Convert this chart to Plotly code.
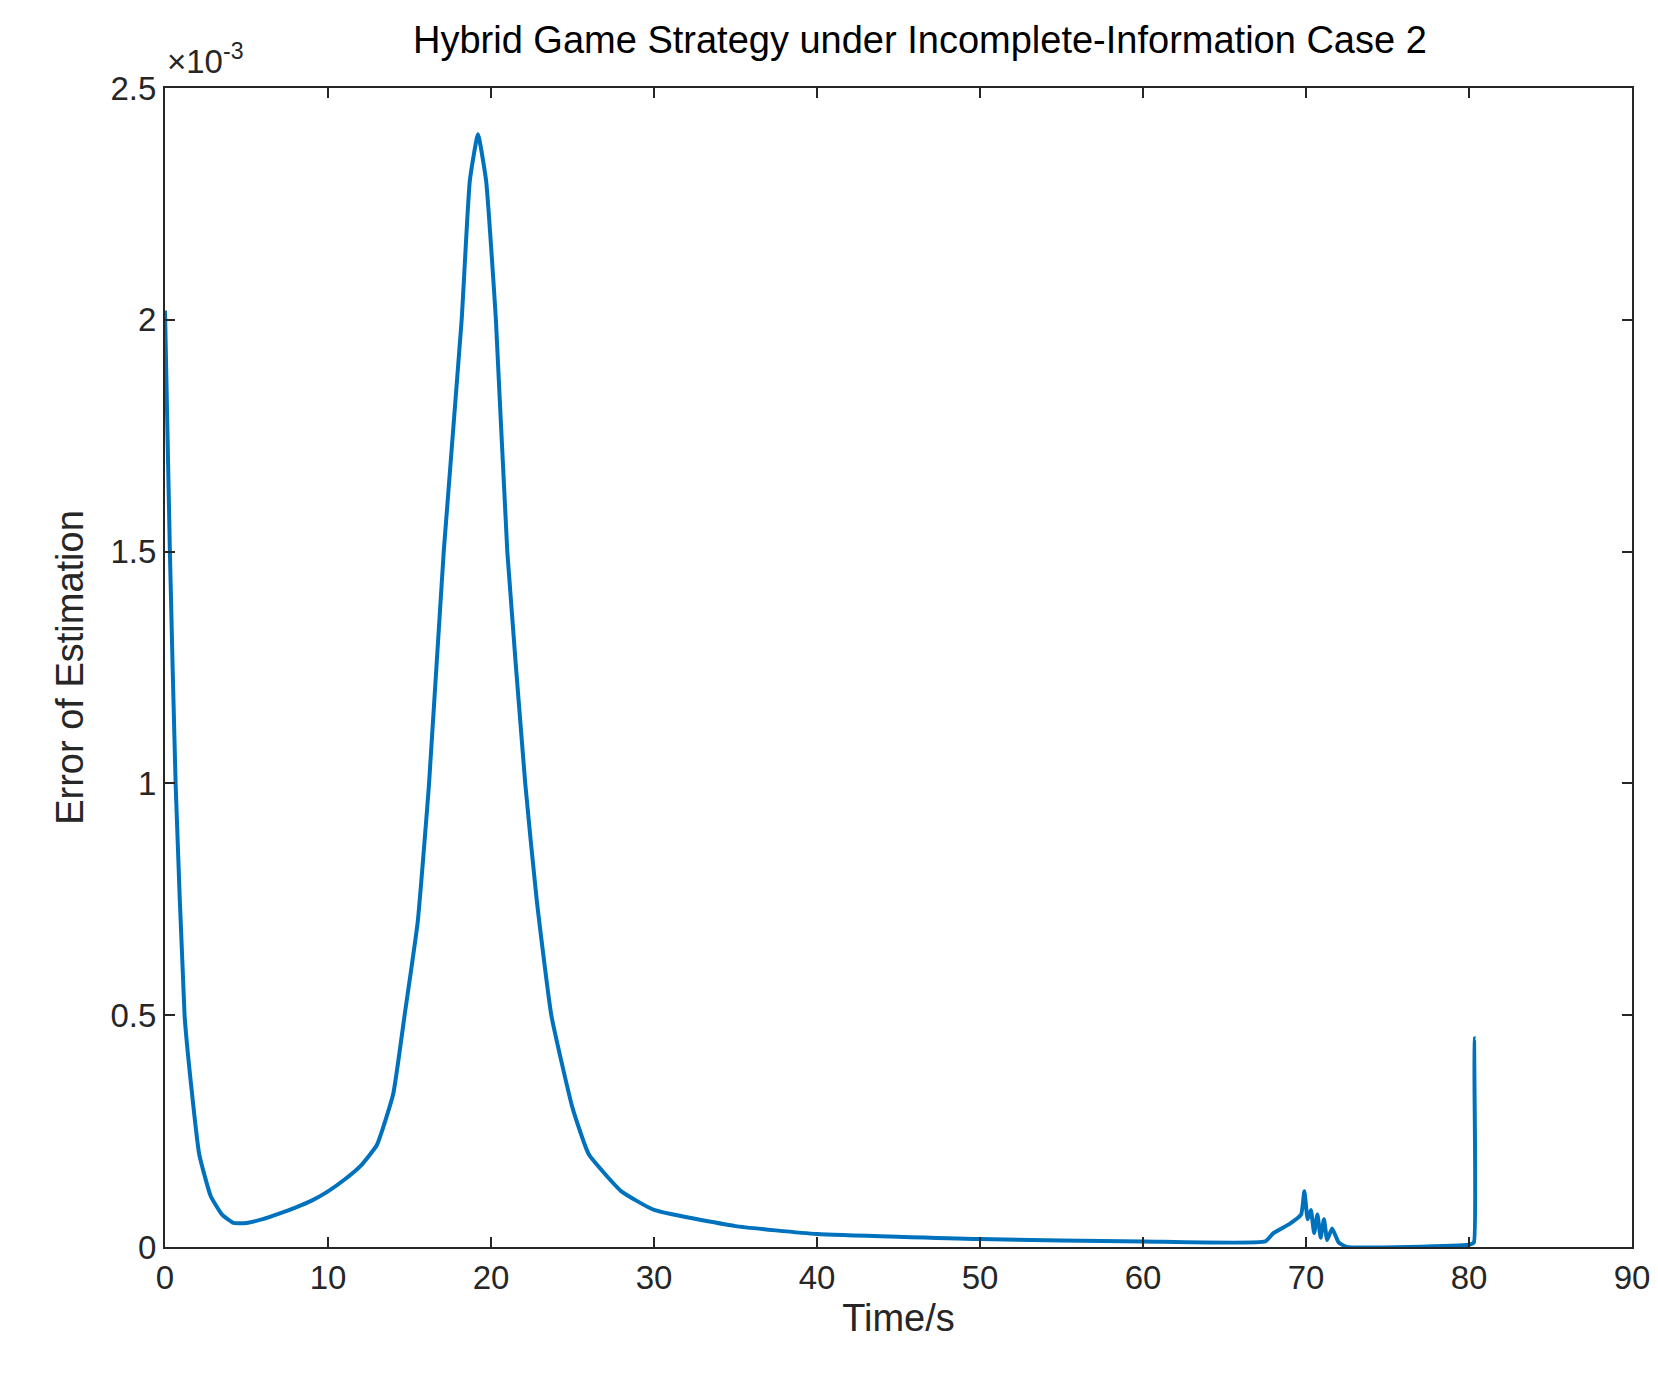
import plotly.graph_objects as go

time_s = [0, 0.3, 0.65, 1.2, 1.6, 2.1, 2.8, 3.5, 4.2, 5, 6, 7, 8, 9, 10, 11, 12, 13, 14, 14.7, 15.5, 16.2, 17.1, 18.2, 18.7, 19.2, 19.7, 20.3, 21.0, 22.1, 22.8, 23.7, 25, 26, 28, 30, 35, 40, 50, 60, 67.5, 68, 69, 69.7, 69.9, 70.1, 70.3, 70.5, 70.7, 70.9, 71.1, 71.3, 71.6, 72, 72.5, 80, 80.3, 80.35, 80.4]
error_e3 = [2.02, 1.5, 1.0, 0.5, 0.35, 0.2, 0.11, 0.07, 0.052, 0.052, 0.06, 0.072, 0.085, 0.1, 0.12, 0.145, 0.175, 0.22, 0.33, 0.5, 0.7, 1.0, 1.5, 2.0, 2.3, 2.40, 2.3, 2.0, 1.5, 1.0, 0.75, 0.5, 0.3, 0.2, 0.12, 0.08, 0.045, 0.028, 0.017, 0.012, 0.012, 0.03, 0.05, 0.07, 0.12, 0.06, 0.08, 0.03, 0.07, 0.02, 0.06, 0.015, 0.04, 0.01, 0.0, 0.005, 0.01, 0.45, 0.45]
x_ticks = [0, 10, 20, 30, 40, 50, 60, 70, 80, 90]
y_ticks = [0, 0.5, 1, 1.5, 2, 2.5]
y_tick_labels = ["0", "0.5", "1", "1.5", "2", "2.5"]

fig = go.Figure(go.Scatter(x=time_s, y=error_e3, mode="lines",
                           line=dict(color="#0072BD", width=4, shape="spline", smoothing=0.4)))
ax = dict(showgrid=False, zeroline=False, showline=True, mirror="ticks", linecolor="#262626",
          linewidth=2, ticks="inside", ticklen=10, tickwidth=2, tickcolor="#262626",
          tickfont=dict(family="Liberation Sans, Arial", size=33, color="#262626"))
fig.update_xaxes(range=[0, 90], tickvals=x_ticks, title=dict(text="Time/s", font=dict(size=38, family="Liberation Sans, Arial", color="#262626"), standoff=10), **ax)
fig.update_yaxes(range=[0, 2.5], tickvals=y_ticks, ticktext=y_tick_labels, title=dict(text="Error of Estimation", font=dict(size=38, family="Liberation Sans, Arial", color="#262626"), standoff=15), **ax)
fig.update_layout(width=1658, height=1387, plot_bgcolor="white", paper_bgcolor="white", showlegend=False,
                  margin=dict(l=157, r=34, t=80, b=148),
                  title=dict(text="Hybrid Game Strategy under Incomplete-Information Case 2", x=0.55, xanchor="center", y=0.977, yanchor="middle",
                             font=dict(family="Liberation Sans, Arial", size=38, color="#000")),
                  annotations=[dict(text="×10<sup>-3</sup>", xref="paper", yref="paper", x=0, y=1.005, xanchor="left", yanchor="bottom",
                                    showarrow=False, font=dict(family="Liberation Sans, Arial", size=33, color="#262626"))])
fig.write_html("out.html")
